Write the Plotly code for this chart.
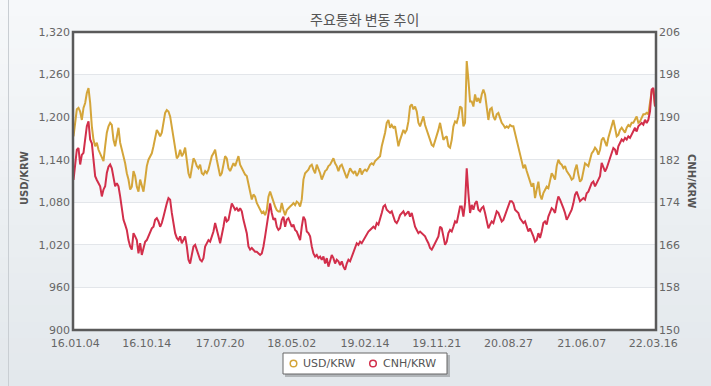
import plotly.graph_objects as go

# ---------------- data ----------------
chart_title = "주요통화 변동 추이"
series_names = ["USD/KRW", "CNH/KRW"]

x_labels = ["16.01.04", "16.10.14", "17.07.20", "18.05.02", "19.02.14",
            "19.11.21", "20.08.27", "21.06.07", "22.03.16"]
x_label_index = [1, 44, 88, 131, 175, 218, 261, 305, 348]

usd_ticks = [900, 960, 1020, 1080, 1140, 1200, 1260, 1320]
cnh_ticks = [150, 158, 166, 174, 182, 190, 198, 206]

usd_krw = [
    1173, 1196, 1211, 1213, 1208, 1196, 1213, 1220, 1234, 1241,
    1220, 1187, 1168, 1159, 1164, 1154, 1149, 1145, 1138, 1159,
    1178, 1187, 1192, 1189, 1168, 1159, 1173, 1185, 1164, 1154,
    1147, 1135, 1121, 1112, 1098, 1102, 1124, 1117, 1102, 1095,
    1112, 1102, 1095, 1112, 1131, 1140, 1145, 1149, 1159, 1173,
    1182, 1178, 1173, 1178, 1192, 1206, 1210, 1208, 1201, 1187,
    1168, 1154, 1142, 1145, 1154, 1145, 1149, 1157, 1140, 1121,
    1114, 1126, 1142, 1138, 1131, 1128, 1133, 1121, 1119, 1124,
    1121, 1126, 1135, 1145, 1149, 1154, 1140, 1128, 1117, 1121,
    1131, 1145, 1142, 1128, 1124, 1131, 1135, 1131, 1138, 1145,
    1133, 1128, 1124, 1119, 1117, 1107, 1093, 1084, 1091, 1088,
    1079, 1074, 1069, 1065, 1067, 1062, 1069, 1088, 1095, 1088,
    1079, 1074, 1069, 1067, 1067,
    1079, 1069, 1062, 1069, 1072, 1074, 1076, 1079, 1076, 1081,
    1079, 1074, 1084, 1112, 1121, 1124, 1126, 1131, 1133, 1126,
    1121, 1133, 1128, 1121, 1112, 1117, 1124, 1126, 1131, 1133,
    1138, 1142, 1135, 1131, 1124, 1131, 1133, 1126, 1119, 1114,
    1121, 1128, 1124, 1121, 1124, 1117, 1121, 1128, 1119, 1124,
    1126, 1124, 1128, 1133, 1135, 1133, 1138, 1140, 1142, 1145,
    1159, 1168, 1178, 1192, 1196, 1185, 1189, 1185, 1187, 1173,
    1159, 1168, 1175, 1182, 1178, 1182, 1194, 1215, 1218, 1211,
    1215, 1208, 1192, 1187, 1194, 1201, 1189, 1182, 1173, 1168,
    1161, 1159, 1166, 1173, 1182, 1192, 1178, 1168, 1171, 1173,
    1159, 1157, 1168, 1187, 1194, 1192, 1201, 1215,
    1213, 1187, 1192, 1279, 1253, 1222, 1222, 1215, 1232, 1222,
    1227, 1220, 1232, 1239, 1232, 1211, 1196, 1211, 1213, 1201,
    1196, 1204, 1206, 1199, 1192, 1189, 1185, 1187, 1185, 1189,
    1187, 1187, 1178, 1168, 1159, 1147, 1138, 1128, 1133, 1124,
    1117, 1107, 1102, 1107, 1086, 1098, 1109, 1091, 1084, 1093,
    1098, 1102, 1100, 1112, 1121, 1117, 1112, 1131, 1140, 1135,
    1133, 1128, 1131, 1124, 1121, 1117, 1112, 1114, 1126, 1133,
    1119, 1109, 1112, 1126, 1135, 1133, 1131, 1140, 1149, 1152,
    1157, 1154, 1147, 1154, 1168, 1171, 1164, 1159, 1171, 1180,
    1187, 1196, 1185, 1173, 1175, 1182, 1185, 1182, 1178, 1185,
    1189, 1187, 1192, 1192, 1196, 1201, 1192, 1194, 1199, 1204,
    1204, 1206, 1204, 1220, 1237, 1239, 1215,
]

cnh_krw = [
    178.2, 180.7, 183.9, 184.2, 181.1, 182.9, 183.3, 185.8, 188.3, 189.2,
    185.8, 185.1, 181.4, 178.9, 178.2, 177.6, 177.0, 175.1, 176.4, 177.0,
    179.5, 180.7, 181.1, 180.4, 178.2, 177.0, 177.6, 177.0, 175.1, 172.6,
    170.7, 169.8, 168.8, 166.9, 165.7, 165.1, 168.2, 167.6, 166.9, 164.4,
    166.3, 164.1, 165.7, 166.6, 166.9, 167.6, 168.2, 169.1, 169.4, 170.7,
    171.0, 170.4, 169.4, 170.1, 171.3, 172.9, 173.8, 174.8, 174.5, 172.0,
    170.1, 168.2, 167.3, 166.9, 167.6, 166.3, 166.9, 167.6, 165.7, 163.2,
    162.5, 163.8, 165.7, 166.0, 165.1, 163.8, 163.2, 162.9, 163.5, 165.7,
    166.3, 166.9, 166.6, 167.6, 168.5, 170.1, 168.5, 167.6, 166.3, 167.6,
    169.4, 171.3, 170.4, 170.7, 172.0, 173.8, 173.2, 172.6, 172.9, 172.3,
    172.9, 172.3, 170.7, 169.4, 168.2, 165.7, 165.1, 165.4, 165.1, 164.7,
    164.7, 164.4, 164.1, 164.4, 165.7, 167.6, 169.4, 172.0, 173.8, 172.0,
    170.7, 171.0, 169.4, 168.8, 169.1,
    170.7, 171.3, 169.4, 170.7, 171.0, 170.1, 169.4, 169.8, 168.8, 168.5,
    167.6, 166.9, 169.4, 171.3, 170.7, 168.5, 168.2, 167.6, 165.7, 164.4,
    163.8, 164.1, 163.5, 163.8, 163.2, 163.8, 162.5, 163.5, 161.9, 163.2,
    164.1, 163.5, 162.5, 163.2, 162.9, 162.2, 162.9, 161.9, 161.3, 162.5,
    163.2, 162.9, 163.8, 164.4, 165.4, 166.3, 166.0, 166.6, 166.3, 166.9,
    167.6, 168.2, 168.5, 168.8, 169.1, 169.4, 169.1, 170.1, 169.8, 170.7,
    172.0, 173.2, 173.5, 172.6, 172.3, 172.0, 172.3, 171.3, 170.4, 170.1,
    170.7, 171.6, 172.0, 172.3, 171.6, 172.0, 172.3, 171.3, 172.0, 170.7,
    169.4, 168.8, 168.2, 168.5, 168.2, 167.9, 167.6, 166.9, 166.3, 165.4,
    165.1, 165.7, 166.3, 166.9, 167.6, 169.4, 169.1, 167.6, 166.0, 166.6,
    168.2, 168.8, 168.5, 169.4, 170.4, 170.1, 172.0, 173.2,
    173.2, 171.3, 173.8, 180.4, 175.7, 172.0, 173.5, 172.6, 173.8, 174.2,
    172.6, 172.3, 172.9, 173.2, 172.0, 170.7, 169.1, 169.8, 170.4, 170.1,
    171.0, 172.3, 172.0, 171.0, 170.4, 170.7, 171.6, 172.3, 173.2, 174.2,
    174.2, 173.8, 172.6, 172.3, 172.0, 171.0, 170.4, 170.1, 170.4, 169.4,
    168.5, 169.1, 168.5, 167.6, 166.6, 166.9, 168.2, 167.3, 168.5, 170.1,
    170.4, 169.8, 171.3, 172.0, 172.9, 172.6, 172.0, 173.8, 175.1, 174.5,
    173.8, 172.9, 172.0, 170.7, 171.3, 172.0, 172.6, 173.8, 175.4, 176.0,
    175.1, 174.2, 174.5, 174.8, 174.5, 175.7, 176.0, 176.7, 177.6, 177.9,
    177.0, 177.6, 178.2, 178.9, 181.4, 180.4, 179.8, 180.4, 181.4, 182.6,
    183.6, 184.2, 183.9, 182.9, 184.5, 185.1, 185.8, 185.5, 186.1, 185.8,
    186.4, 186.1, 186.7, 187.6, 188.0, 187.3, 188.3, 188.6, 188.9, 188.6,
    189.5, 188.9, 189.5, 191.1, 195.2, 195.5, 192.0,
]

x_index = list(range(len(usd_krw)))

# ---------------- style ----------------
GOLD = "#D4A53A"
RED = "#D22F4B"
W, H = 711, 386
ML, MR, MT, MB = 73, 55, 32, 56
PW, PH = W - ML - MR, H - MT - MB


def px_x(p):
    return (p - ML) / PW


def px_y(p):
    return (H - MB - p) / PH


fig = go.Figure()
fig.add_trace(go.Scatter(x=x_index, y=usd_krw, mode="lines", name=series_names[0],
                         line=dict(color=GOLD, width=2), showlegend=False,
                         yaxis="y", hoverinfo="skip"))
fig.add_trace(go.Scatter(x=x_index, y=cnh_krw, mode="lines", name=series_names[1],
                         line=dict(color=RED, width=2), showlegend=False,
                         yaxis="y2", hoverinfo="skip"))

shapes = []
# background gradient
top_rgb = (246, 248, 250)
bot_rgb = (227, 232, 236)
n_strips = 24
for i in range(n_strips):
    f = i / (n_strips - 1)
    c = tuple(int(round(top_rgb[k] + (bot_rgb[k] - top_rgb[k]) * f)) for k in range(3))
    y0p = H * i / n_strips
    y1p = H * (i + 1) / n_strips + 1
    shapes.append(dict(type="rect", xref="paper", yref="paper", layer="below",
                       x0=px_x(0), x1=px_x(W), y0=px_y(y1p), y1=px_y(y0p),
                       fillcolor="rgb(%d,%d,%d)" % c, line=dict(width=0)))
# white plot area
shapes.append(dict(type="rect", xref="paper", yref="paper", layer="below",
                   x0=0, x1=1, y0=0, y1=1, fillcolor="white", line=dict(width=0)))
# alternating bands
for i in range(1, len(usd_ticks) - 1, 2):
    shapes.append(dict(type="rect", xref="paper", yref="y", layer="below",
                       x0=0, x1=1, y0=usd_ticks[i], y1=usd_ticks[i + 1],
                       fillcolor="#f6f8fa", line=dict(width=0)))
# frame
shapes.append(dict(type="rect", xref="paper", yref="paper", layer="above",
                   x0=0, x1=1, y0=0, y1=1, line=dict(color="#5a5a5a", width=2.5)))
# left container border
shapes.append(dict(type="line", xref="paper", yref="paper", layer="below",
                   x0=px_x(8.5), x1=px_x(8.5), y0=px_y(H), y1=px_y(0),
                   line=dict(color="#c9ced3", width=1)))

# custom legend box (with shadow)
LG_L, LG_T, LG_R, LG_B = 283, 353, 447, 374
LG_CY = (LG_T + LG_B) / 2
shapes.append(dict(type="rect", xref="paper", yref="paper", layer="above",
                   x0=px_x(LG_L + 2), x1=px_x(LG_R + 3), y0=px_y(LG_B + 3), y1=px_y(LG_T + 2),
                   fillcolor="rgba(0,0,0,0.22)", line=dict(width=0)))
shapes.append(dict(type="rect", xref="paper", yref="paper", layer="above",
                   x0=px_x(LG_L), x1=px_x(LG_R), y0=px_y(LG_B), y1=px_y(LG_T),
                   fillcolor="white", line=dict(color="#666", width=1)))

annotations = [
    dict(text=chart_title, xref="paper", yref="paper", x=0.5, y=px_y(19),
         showarrow=False, xanchor="center", yanchor="middle",
         font=dict(family="Noto Sans CJK KR", size=14, color="#555")),
    dict(text="<b>USD/KRW</b>", xref="paper", yref="paper", x=px_x(24), y=px_y(178),
         showarrow=False, textangle=-90, xanchor="center", yanchor="middle",
         font=dict(family="DejaVu Sans", size=10, color="#555")),
    dict(text="<b>CNH/KRW</b>", xref="paper", yref="paper", x=px_x(692), y=px_y(181),
         showarrow=False, textangle=90, xanchor="center", yanchor="middle",
         font=dict(family="DejaVu Sans", size=10, color="#555")),
]

legend_marker_x = [293.5, 373]
for nm, col, mx in zip(series_names, [GOLD, RED], legend_marker_x):
    shapes.append(dict(type="circle", xref="paper", yref="paper", layer="above",
                       xsizemode="pixel", ysizemode="pixel",
                       xanchor=px_x(mx), yanchor=px_y(LG_CY),
                       x0=-3.3, x1=3.3, y0=-3.3, y1=3.3,
                       fillcolor="white", line=dict(color=col, width=1.5)))
    annotations.append(dict(text=nm, xref="paper", yref="paper",
                            x=px_x(mx + 7.5), y=px_y(LG_CY), showarrow=False,
                            xanchor="left", yanchor="middle",
                            font=dict(family="DejaVu Sans", size=11, color="#555")))

fig.update_layout(
    width=W, height=H,
    margin=dict(l=ML, r=MR, t=MT, b=MB, pad=0),
    paper_bgcolor="#edf1f4",
    plot_bgcolor="rgba(0,0,0,0)",
    font=dict(family="DejaVu Sans", size=11, color="#666"),
    showlegend=False,
    hovermode=False,
    xaxis=dict(range=[-0.3, 349.6], tickmode="array", tickvals=x_label_index,
               ticktext=x_labels, showgrid=False, zeroline=False, showline=False,
               ticks="", ticklabelstandoff=5, tickfont=dict(size=11, color="#666")),
    yaxis=dict(range=[900, 1320], tickmode="array", tickvals=usd_ticks,
               tickformat=",", showgrid=True, gridcolor="#e3e6ea", gridwidth=1,
               zeroline=False, showline=False, ticks="", ticklabelstandoff=2,
               tickfont=dict(size=11, color="#666")),
    yaxis2=dict(range=[150, 206], tickmode="array", tickvals=cnh_ticks,
                overlaying="y", side="right", showgrid=False, zeroline=False,
                showline=False, ticks="", ticklabelstandoff=2,
                tickfont=dict(size=11, color="#666")),
    shapes=shapes,
    annotations=annotations,
)

fig.write_html("out.html",
               config={"displayModeBar": False},
               post_script="document.body.style.margin='0';document.body.style.overflow='hidden';")
